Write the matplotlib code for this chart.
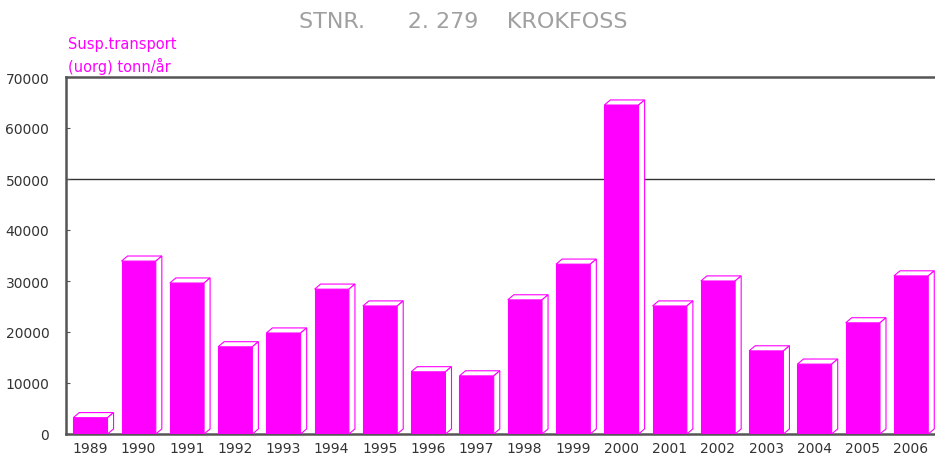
import matplotlib
matplotlib.use("Agg")
import matplotlib.pyplot as plt
from matplotlib.patches import Polygon, Rectangle

years = ["1989", "1990", "1991", "1992", "1993", "1994", "1995", "1996", "1997",
         "1998", "1999", "2000", "2001", "2002", "2003", "2004", "2005", "2006"]
values = [3200, 33900, 29600, 17100, 19800, 28400, 25100, 12200, 11400,
          26300, 33300, 64500, 25100, 30000, 16300, 13700, 21800, 31000]
yticks = [0, 10000, 20000, 30000, 40000, 50000, 60000, 70000]

MAG = "#ff00ff"
AX = "#555555"

fig = plt.figure(figsize=(9.35, 4.6), dpi=100)
ax = fig.add_axes([66/935, 25/460, 869/935, 357/460])
ax.set_xlim(0, len(years))
ax.set_ylim(0, 70000)

x0_off, bw = 0.15, 0.71
dx, dy = 0.125, 1000
for i, v in enumerate(values):
    x0 = i + x0_off
    x1 = x0 + bw
    ax.add_patch(Rectangle((x0, 0), bw, v, facecolor=MAG, edgecolor=MAG, lw=0.8, zorder=3))
    ax.add_patch(Polygon([(x0, v), (x1, v), (x1 + dx, v + dy), (x0 + dx, v + dy)],
                         closed=True, facecolor="white", edgecolor=MAG, lw=0.8, zorder=3))
    ax.add_patch(Polygon([(x1, 0), (x1 + dx, dy), (x1 + dx, v + dy), (x1, v)],
                         closed=True, facecolor="white", edgecolor=MAG, lw=0.8, zorder=3))

ax.axhline(50000, color="#333333", lw=1.0, zorder=1)

for s in ["left", "bottom", "top"]:
    ax.spines[s].set_color(AX)
    ax.spines[s].set_linewidth(1.8)
ax.spines["right"].set_visible(False)

ax.set_yticks(yticks)
ax.set_yticklabels([str(t) for t in yticks], fontsize=10, color="#333333")
ax.tick_params(axis="y", direction="in", length=3, color=AX, pad=12)
ax.set_xticks([i + 0.5 for i in range(len(years))])
ax.set_xticklabels(years, fontsize=10, color="#333333")
ax.tick_params(axis="x", length=0, pad=5)

fig.text(0.495, 0.952, "STNR.      2. 279    KROKFOSS", ha="center", va="center",
         fontsize=16, color="#a0a0a0")
fig.text(68/935, 1 - 45/460, "Susp.transport", ha="left", va="center", fontsize=10.5, color=MAG)
fig.text(68/935, 1 - 66/460, "(uorg) tonn/år", ha="left", va="center", fontsize=10.5, color=MAG)

fig.savefig("out.png", dpi=100)
